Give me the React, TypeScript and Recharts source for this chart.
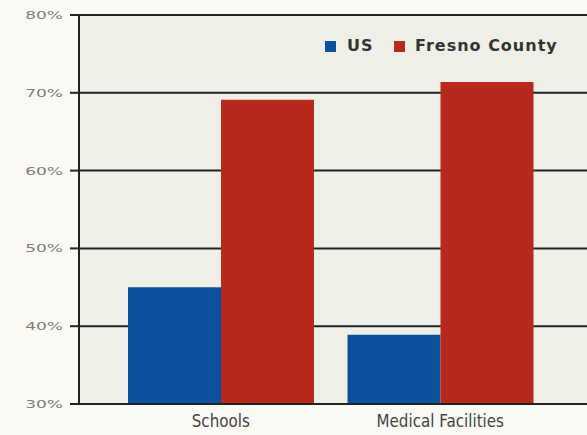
import React from 'react';
import { BarChart, Bar, XAxis, YAxis, CartesianGrid } from 'recharts';

const categories = ['Schools', 'Medical Facilities'];
const usValues = [45.0, 38.9];
const fresnoValues = [69.1, 71.4];
const yTicks = [30, 40, 50, 60, 70, 80];
const seriesNames = ['US', 'Fresno County'];

const US_BLUE = '#0b509d';
const FRESNO_RED = '#b8291d';

const data = categories.map((name, i) => ({
  name,
  us: usValues[i],
  fresno: fresnoValues[i],
}));

// Wide, squat y labels like the original's extended typeface
const YTick = (props: any) => {
  const { x, y, payload } = props;
  return (
    <g transform={`translate(${x},${y})`}>
      <text
        transform="scale(1.55,1)"
        textAnchor="end"
        dy={4}
        fill="#7d7d7d"
        fontSize={11}
        fontFamily="DejaVu Sans, sans-serif"
      >
        {`${payload.value}%`}
      </text>
    </g>
  );
};

// Tall, condensed category labels
const XTick = (props: any) => {
  const { x, y, payload } = props;
  return (
    <g transform={`translate(${x},${y})`}>
      <text
        transform="scale(0.84,1)"
        textAnchor="middle"
        dy={23}
        fill="#444"
        fontSize={18}
        fontFamily="DejaVu Sans, sans-serif"
      >
        {payload.value}
      </text>
    </g>
  );
};

const legendText: React.CSSProperties = {
  position: 'absolute',
  top: 37,
  fontFamily: 'DejaVu Sans, sans-serif',
  fontWeight: 700,
  fontSize: 16,
  letterSpacing: 1,
  color: '#333',
  lineHeight: '18px',
};

const App: React.FC = () => {
  return (
    <div style={{ position: 'absolute', left: 0, top: 0, width: 587, height: 435, background: '#faf9f4' }}>
      <BarChart
        width={587}
        height={435}
        data={data}
        margin={{ top: 15, right: 0, bottom: 0, left: 0 }}
        barGap={0}
        barCategoryGap={17}
      >
        <CartesianGrid vertical={false} stroke="#222" strokeWidth={2} fill="#efeee7" />
        <XAxis
          dataKey="name"
          height={31}
          tickSize={0}
          tickMargin={0}
          padding={{ left: 32, right: 37 }}
          axisLine={{ stroke: '#222', strokeWidth: 2 }}
          tick={<XTick />}
        />
        <YAxis
          width={79}
          domain={[30, 80]}
          ticks={yTicks}
          tickSize={9}
          tickMargin={7}
          interval={0}
          allowDataOverflow
          axisLine={{ stroke: '#222', strokeWidth: 2 }}
          tickLine={{ stroke: '#222', strokeWidth: 2 }}
          tick={<YTick />}
        />
        <Bar dataKey="us" name={seriesNames[0]} fill={US_BLUE} isAnimationActive={false} />
        <Bar dataKey="fresno" name={seriesNames[1]} fill={FRESNO_RED} isAnimationActive={false} />
      </BarChart>
      <span style={{ position: 'absolute', left: 325, top: 41, width: 11, height: 11, background: US_BLUE }} />
      <span style={{ ...legendText, left: 347 }}>{seriesNames[0]}</span>
      <span style={{ position: 'absolute', left: 394, top: 41, width: 11, height: 11, background: FRESNO_RED }} />
      <span style={{ ...legendText, left: 415 }}>{seriesNames[1]}</span>
    </div>
  );
};

export default App;
